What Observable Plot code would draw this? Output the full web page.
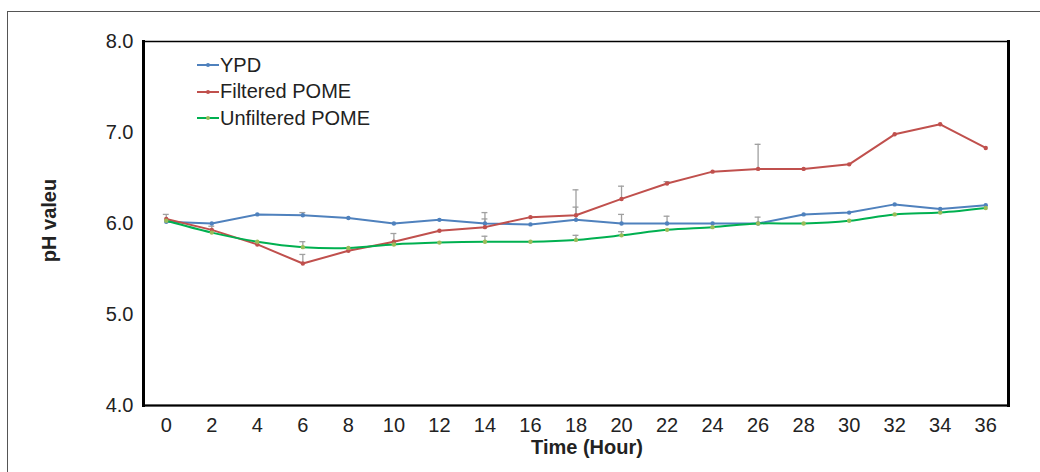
<!DOCTYPE html>
<html>
<head>
<meta charset="utf-8">
<script src="https://cdn.jsdelivr.net/npm/d3@7"></script>
<script src="https://cdn.jsdelivr.net/npm/@observablehq/plot@0.6"></script>
<style>
  html, body { margin: 0; padding: 0; overflow: hidden; background: #fff; }
  #wrap { position: relative; width: 1040px; height: 472px; font-family: "Liberation Sans", Arial, sans-serif; }
  #outer { position: absolute; left: 7px; top: 11px; width: 1100px; height: 520px; border: 1.5px solid #555; pointer-events: none; }
  #legend { position: absolute; left: 197px; top: 52px; font-size: 20px; color: #222; }
  #legend .row { display: flex; align-items: center; height: 26.5px; white-space: nowrap; }
  #legend svg { display: block; margin-right: 1px; }
  #chart { position: absolute; left: 0; top: 0; }
</style>
</head>
<body>
<div id="wrap">
  <div id="chart"></div>
  <div id="outer"></div>
  <div id="legend"></div>
</div>
<script>
const hours = [0, 2, 4, 6, 8, 10, 12, 14, 16, 18, 20, 22, 24, 26, 28, 30, 32, 34, 36];
const seriesNames = ["YPD", "Filtered POME", "Unfiltered POME"];
const ypd        = [6.02, 6.00, 6.10, 6.09, 6.06, 6.00, 6.04, 6.00, 5.99, 6.04, 6.00, 6.00, 6.00, 6.00, 6.10, 6.12, 6.21, 6.16, 6.20];
const filtered   = [6.05, 5.93, 5.77, 5.56, 5.70, 5.80, 5.92, 5.96, 6.07, 6.09, 6.27, 6.44, 6.57, 6.60, 6.60, 6.65, 6.98, 7.09, 6.83];
const unfiltered = [6.03, 5.90, 5.80, 5.74, 5.73, 5.77, 5.79, 5.80, 5.80, 5.82, 5.87, 5.93, 5.96, 6.00, 6.00, 6.03, 6.10, 6.12, 6.17];
const ypdErr        = [0.08, 0, 0, 0.03, 0, 0, 0, 0.12, 0, 0.14, 0.10, 0.08, 0, 0.07, 0, 0, 0, 0, 0];
const filteredErr   = [0, 0.04, 0, 0.10, 0, 0.09, 0, 0.09, 0, 0.28, 0.14, 0.02, 0, 0.27, 0, 0, 0, 0, 0];
const unfilteredErr = [0, 0, 0, 0.06, 0, 0, 0, 0.06, 0, 0.05, 0.04, 0, 0, 0, 0, 0, 0, 0, 0];
const yTicks = [4, 5, 6, 7, 8];

const lineColors = ["#4f81bd", "#c0504d", "#00b050"];
const markerColors = ["#4f81bd", "#c0504d", "#9bbb59"];

const values = [ypd, filtered, unfiltered];
const errs = [ypdErr, filteredErr, unfilteredErr];
const rows = [];
seriesNames.forEach((s, si) => hours.forEach((h, i) => rows.push({series: s, si, hour: h, value: values[si][i], err: errs[si][i]})));
const errRows = rows.filter(d => d.err > 0);
const capHalf = 0.13;

const marks = [
  Plot.axisY({ticks: yTicks, tickSize: 0, tickPadding: 10, tickFormat: d3.format(".1f"), label: null}),
  Plot.axisX({ticks: hours, tickSize: 0, tickPadding: 12, label: null}),
  Plot.ruleX(errRows, {x: "hour", y1: "value", y2: d => d.value + d.err, stroke: "#a0a0a0", strokeWidth: 1.3}),
  Plot.ruleY(errRows, {y: d => d.value + d.err, x1: d => d.hour - capHalf, x2: d => d.hour + capHalf, stroke: "#a0a0a0", strokeWidth: 1.3})
];
seriesNames.forEach((s, si) => {
  const data = rows.filter(d => d.si === si);
  marks.push(Plot.line(data, {x: "hour", y: "value", stroke: lineColors[si], strokeWidth: 2, curve: si === 2 ? "catmull-rom" : "linear"}));
  marks.push(Plot.dot(data, {x: "hour", y: "value", fill: markerColors[si], r: 2.2}));
});
marks.push(
  Plot.frame({stroke: "#000", strokeWidth: 1.5}),
  Plot.frame({anchor: "left", stroke: "#000", strokeWidth: 3}),
  Plot.frame({anchor: "right", stroke: "#000", strokeWidth: 3}),
  Plot.frame({anchor: "bottom", stroke: "#000", strokeWidth: 2}),
  Plot.text(["Time (Hour)"], {text: d => d, frameAnchor: "bottom", lineAnchor: "middle", textAnchor: "middle", dy: 42, dx: 11, fontSize: 20, fontWeight: "bold", fill: "#222"}),
  Plot.text(["pH valeu"], {text: d => d, frameAnchor: "left", lineAnchor: "middle", textAnchor: "middle", rotate: -90, dx: -94, dy: -3, fontSize: 20, fontWeight: "bold", fill: "#222"})
);

const chart = Plot.plot({
  width: 1040,
  height: 472,
  marginLeft: 143,
  marginRight: 32,
  marginTop: 41,
  marginBottom: 67,
  x: {type: "linear", domain: [-1, 37]},
  y: {domain: [4, 8]},
  style: {fontSize: "20px", fontFamily: "'Liberation Sans', Arial, sans-serif", color: "#222", background: "transparent", overflow: "visible"},
  marks
});
document.getElementById("chart").appendChild(chart);

const legend = document.getElementById("legend");
seriesNames.forEach((s, si) => {
  const row = document.createElement("div");
  row.className = "row";
  row.innerHTML = `<svg width="22" height="10"><line x1="0" x2="22" y1="5" y2="5" stroke="${lineColors[si]}" stroke-width="2"/><circle cx="11" cy="5" r="2" fill="${markerColors[si]}"/></svg><span>${s}</span>`;
  legend.appendChild(row);
});
</script>
</body>
</html>
